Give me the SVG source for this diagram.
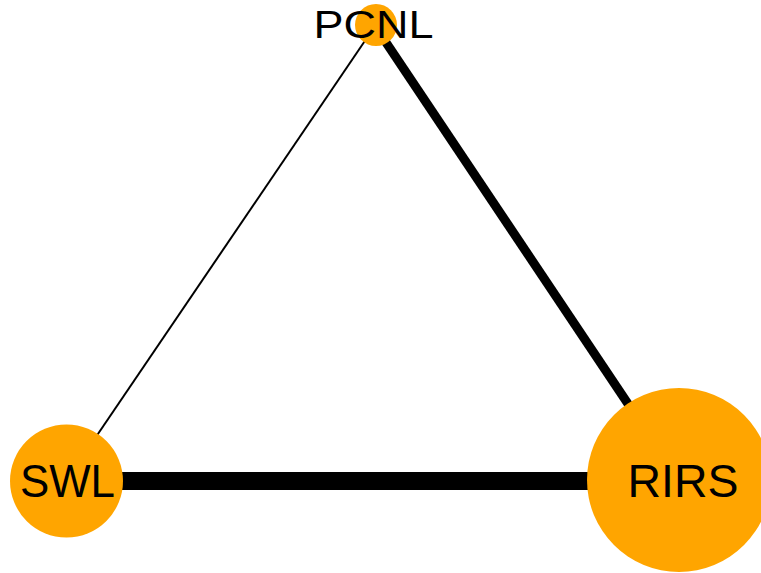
<svg xmlns="http://www.w3.org/2000/svg" width="761" height="573" viewBox="0 0 761 573">
<style>
.node{fill:#FFA500;}
.lbl{font-family:"Liberation Sans",Arial,sans-serif;fill:#000;text-anchor:middle;}
.edge{stroke:#000;stroke-linecap:butt;}
</style>
<rect width="761" height="573" fill="#fff"/>
<g id="edges">
<line class="edge" x1="375" y1="26" x2="66" y2="481" stroke-width="2"/>
<line class="edge" x1="375" y1="26" x2="679" y2="480" stroke-width="9"/>
<line class="edge" x1="66" y1="481" x2="679" y2="481" stroke-width="18"/>
</g>
<g id="node-PCNL">
<circle class="node" cx="376" cy="25" r="21"/>
<text class="lbl" x="373.5" y="38" font-size="38" textLength="120" lengthAdjust="spacingAndGlyphs">PCNL</text>
</g>
<g id="node-SWL">
<circle class="node" cx="66.5" cy="481" r="56.5"/>
<text class="lbl" x="67.5" y="497" font-size="46" textLength="95" lengthAdjust="spacingAndGlyphs">SWL</text>
</g>
<g id="node-RIRS">
<circle class="node" cx="679" cy="480" r="92"/>
<text class="lbl" x="683" y="497" font-size="46" textLength="111" lengthAdjust="spacingAndGlyphs">RIRS</text>
</g>
</svg>
